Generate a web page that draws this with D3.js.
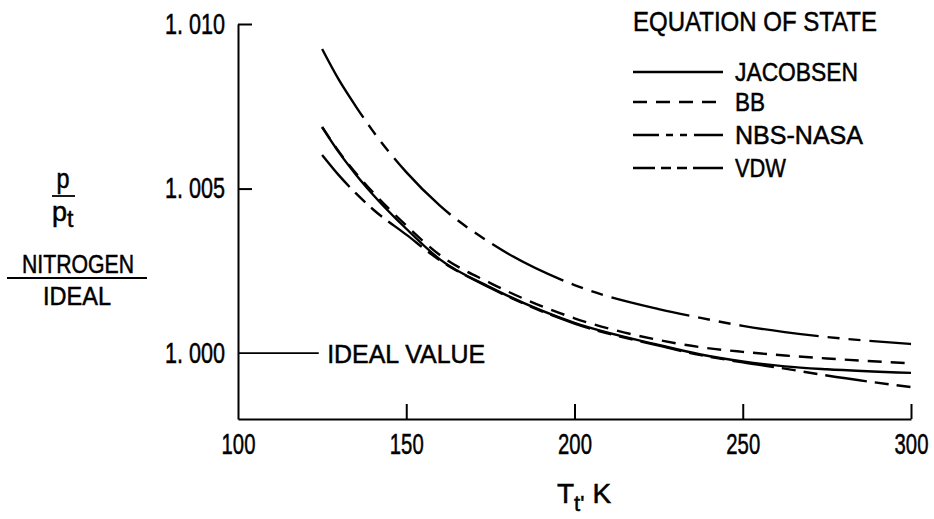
<!DOCTYPE html>
<html>
<head>
<script src="https://d3js.org/d3.v7.min.js"></script>
<style>
  body { margin: 0; background: #fff; }
  text { font-family: "Liberation Sans", Arial, sans-serif; fill: #000; stroke: #000; stroke-width: 0.5; }
</style>
</head>
<body>
<svg id="chart" width="934" height="519"></svg>
<script>
// temperature, K
const temps = [125, 130, 135, 140, 150, 160, 175, 200, 225, 237.5, 250, 262.5, 275, 300]

// p/pt nitrogen over ideal, per equation of state
const jacobsen = [1.00687, 1.00610, 1.00543, 1.00483, 1.00378, 1.00285, 1.00200, 1.00092, 1.00025, 0.99996, 0.99975, 0.99960, 0.99951, 0.99940]
const bb       = [1.00687, 1.00612, 1.00547, 1.00490, 1.00388, 1.00298, 1.00213, 1.00106, 1.00040, 1.00018, 1.00004, 0.99993, 0.99984, 0.99969]
const nbsNasa  = [1.00602, 1.00540, 1.00486, 1.00438, 1.00360, 1.00282, 1.00198, 1.00090, 1.00023, 0.99994, 0.99972, 0.99953, 0.99932, 0.99897]
const vdw      = [1.00924, 1.00830, 1.00750, 1.00676, 1.00550, 1.00448, 1.00335, 1.00207, 1.00134, 1.00107, 1.00083, 1.00064, 1.00049, 1.00028]

const xTicks = [100, 150, 200, 250, 300]
const yTicks = [1.000, 1.005, 1.010]
const idealValue = 1.000

const seriesNames = ['JACOBSEN', 'BB', 'NBS-NASA', 'VDW']
const seriesValues = [jacobsen, bb, nbsNasa, vdw]
const dashes = ['none', '14,9', '42,8,14,8,14,8', '80,9,12,9,12,9']
const legendDashes = ['none', '14,9', '26,7,7,7,7,7,40', '22,6,10,6,10,6,40']

const svg = d3.select('#chart')

const x = d3.scaleLinear().domain([100, 300]).range([238, 911])
const y = d3.scaleLinear().domain([0.998, 1.010]).range([419, 24])

// the lettering on the original is tall and narrow: squeeze each string to its width
const squeeze = (sel, w) => sel.attr('textLength', w).attr('lengthAdjust', 'spacingAndGlyphs')

const fmt = d => d3.format('.3f')(d).replace('.', '. ')

// axes: ticks point inward, like the drafted original
svg.append('g')
    .attr('transform', `translate(0, ${y(0.998)})`)
    .call(d3.axisBottom(x).tickValues(xTicks).tickSizeInner(-15).tickSizeOuter(0).tickPadding(14).tickFormat(d3.format('d')))
    .call(g => g.select('.domain').attr('stroke-width', 2))
    .call(g => g.selectAll('.tick line').attr('stroke-width', 2))
    .call(g => g.selectAll('.tick').filter(d => d === 100).select('line').remove())
    .call(g => g.selectAll('text').attr('font-size', 29).attr('dy', '0.71em').attr('transform', 'scale(0.7,1)'))

svg.append('g')
    .attr('transform', `translate(${x(100)}, 0)`)
    .call(d3.axisLeft(y).tickValues(yTicks).tickSizeInner(-14).tickSizeOuter(0).tickPadding(13).tickFormat(fmt))
    .call(g => g.select('.domain').attr('stroke-width', 2))
    .call(g => g.selectAll('.tick line').attr('stroke-width', 2))
    .call(g => g.selectAll('.tick').filter(d => d === idealValue).select('line').remove())
    .call(g => g.selectAll('text').attr('font-size', 29).call(squeeze, 60))

// ideal value reference
svg.append('line')
    .attr('x1', x(100)).attr('x2', x(124))
    .attr('y1', y(idealValue)).attr('y2', y(idealValue))
    .attr('stroke', '#000').attr('stroke-width', 1.6)
svg.append('text')
    .attr('x', x(126.5)).attr('y', y(idealValue))
    .attr('dy', '0.36em')
    .attr('font-size', 26)
    .text('IDEAL VALUE')
    .call(squeeze, 158)

// curves
const line = d3.line()
    .x(d => x(d[0]))
    .y(d => y(d[1]))
    .curve(d3.curveMonotoneX)

seriesValues.forEach((vals, i) => {
    svg.append('path')
        .datum(temps.map((t, j) => [t, vals[j]]))
        .attr('d', line)
        .attr('fill', 'none')
        .attr('stroke', '#000')
        .attr('stroke-width', 2.4)
        .attr('stroke-dasharray', dashes[i])
})

// legend
svg.append('text')
    .attr('x', 633).attr('y', 31)
    .attr('font-size', 28)
    .text('EQUATION OF STATE')
    .call(squeeze, 244)

const legendRows = [72, 102, 135, 168]
const legendWidths = [123, 30, 128, 51]
seriesNames.forEach((name, i) => {
    svg.append('line')
        .attr('x1', 633).attr('x2', 723)
        .attr('y1', legendRows[i]).attr('y2', legendRows[i])
        .attr('stroke', '#000').attr('stroke-width', 2.4)
        .attr('stroke-dasharray', legendDashes[i])
    svg.append('text')
        .attr('x', 735).attr('y', legendRows[i] + 9)
        .attr('font-size', 26)
        .text(name)
        .call(squeeze, legendWidths[i])
})

// y axis title: p / p_t, NITROGEN / IDEAL
const yt = svg.append('g')
yt.append('text').attr('x', 63).attr('y', 188).attr('text-anchor', 'middle').attr('font-size', 27).text('p').call(squeeze, 13)
yt.append('line').attr('x1', 52).attr('x2', 75).attr('y1', 196).attr('y2', 196).attr('stroke', '#000').attr('stroke-width', 1.8)
const pt = yt.append('text').attr('x', 52).attr('y', 221).attr('font-size', 27)
pt.append('tspan').text('p')
pt.append('tspan').attr('dy', 6).attr('font-size', 23).text('t')
yt.append('text').attr('x', 78).attr('y', 273).attr('text-anchor', 'middle').attr('font-size', 26).text('NITROGEN').call(squeeze, 112)
yt.append('line').attr('x1', 7).attr('x2', 147).attr('y1', 278).attr('y2', 278).attr('stroke', '#000').attr('stroke-width', 1.8)
yt.append('text').attr('x', 77).attr('y', 305).attr('text-anchor', 'middle').attr('font-size', 26).text('IDEAL').call(squeeze, 68)

// x axis title
const xt = svg.append('text').attr('x', 557).attr('y', 503).attr('font-size', 28)
xt.append('tspan').text('T')
xt.append('tspan').attr('dy', 8).attr('font-size', 22).text("t'")
xt.append('tspan').attr('dy', -8).attr('dx', 8).text('K')
</script>
</body>
</html>
